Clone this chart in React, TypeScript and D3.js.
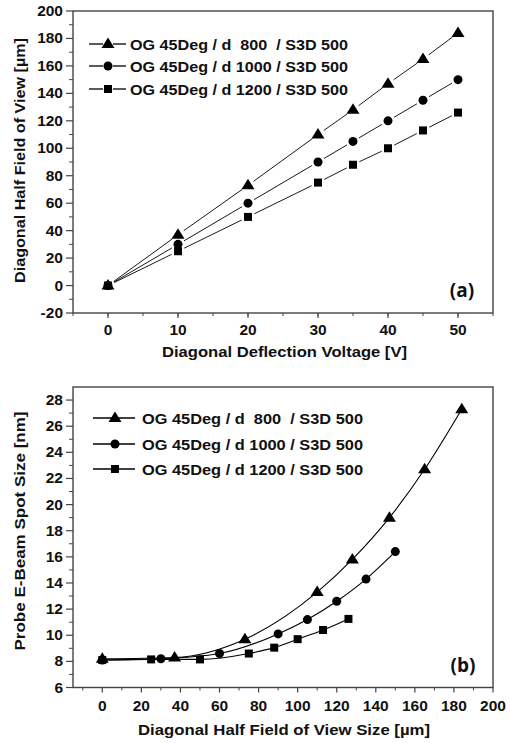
import React from 'react'
import * as d3 from 'd3'

// panel (a): deflection voltage vs half field of view
const voltage = [0, 10, 20, 30, 35, 40, 45, 50]
const fov800 = [0, 37, 73, 110, 128, 147, 165, 184]
const fov1000 = [0, 30, 60, 90, 105, 120, 135, 150]
const fov1200 = [0, 25, 50, 75, 88, 100, 113, 126]

// panel (b): half field of view vs spot size
const spot800 = [8.2, 8.3, 9.7, 13.3, 15.8, 19.0, 22.7, 27.3]
const spot1000 = [8.1, 8.2, 8.6, 10.1, 11.2, 12.6, 14.3, 16.4]
const spot1200 = [8.1, 8.15, 8.15, 8.6, 9.05, 9.7, 10.4, 11.25]

const seriesNames = [
  'OG 45Deg / d  800  / S3D 500',
  'OG 45Deg / d 1000 / S3D 500',
  'OG 45Deg / d 1200 / S3D 500',
]
const markerKinds = ['triangle', 'circle', 'square']

const xTicksA = [0, 10, 20, 30, 40, 50]
const yTicksA = [-20, 0, 20, 40, 60, 80, 100, 120, 140, 160, 180, 200]
const xTicksB = [0, 20, 40, 60, 80, 100, 120, 140, 160, 180, 200]
const yTicksB = [6, 8, 10, 12, 14, 16, 18, 20, 22, 24, 26, 28]

const font = '"Liberation Sans", Arial, sans-serif'
const frame = '#444'

const Marker = ({kind, x, y}) => {
  if (kind === 'triangle')
    return <path d={`M${x},${y - 6.5} L${x + 6.5},${y + 4} L${x - 6.5},${y + 4} Z`} fill="#000" />
  if (kind === 'circle') return <circle cx={x} cy={y} r={4.5} fill="#000" />
  return <rect x={x - 4} y={y - 4} width={8} height={8} fill="#000" />
}

// stretched text, the source figure is a bit wider than the font
const Wide = ({x, y, len, size, anchor = 'middle', transform, children}) => (
  <text
    x={x}
    y={y}
    transform={transform}
    textAnchor={anchor}
    textLength={len}
    lengthAdjust="spacingAndGlyphs"
    fontFamily={font}
    fontWeight="bold"
    fontSize={size}
    fill="#111"
    style={{whiteSpace: 'pre'}}
  >
    {children}
  </text>
)

const Frame = ({x, y, xTicks, yTicks, xMinor, yMinor, xMaj, yMaj, xLabelY}) => {
  const [x0, x1] = x.range()
  const [y0, y1] = y.range()
  return (
    <g fontFamily={font} fontWeight="bold" fill="#111">
      <rect x={x0} y={y1} width={x1 - x0} height={y0 - y1} fill="none" stroke={frame} strokeWidth={1.4} />
      {xMinor.map(t => (
        <line key={'xm' + t} x1={x(t)} x2={x(t)} y1={y0} y2={y0 + 3} stroke={frame} />
      ))}
      {xTicks.map(t => (
        <g key={'x' + t}>
          <line x1={x(t)} x2={x(t)} y1={y0} y2={y0 + xMaj} stroke={frame} strokeWidth={1.2} />
          <text x={x(t)} y={xLabelY} textAnchor="middle" fontSize={15.5}>{t}</text>
        </g>
      ))}
      {yMinor.map(t => (
        <line key={'ym' + t} x1={x0 - 4} x2={x0} y1={y(t)} y2={y(t)} stroke={frame} />
      ))}
      {yTicks.map(t => (
        <g key={'y' + t}>
          <line x1={x0 - yMaj} x2={x0} y1={y(t)} y2={y(t)} stroke={frame} strokeWidth={1.2} />
          <text x={x0 - 10} y={y(t) + 5} textAnchor="end" fontSize={15.5}>{t}</text>
        </g>
      ))}
    </g>
  )
}

// straight segments that stop short of each marker
const gappedSegments = (pts, gap) => {
  const out = []
  for (let i = 0; i < pts.length - 1; i++) {
    const [ax, ay] = pts[i]
    const [bx, by] = pts[i + 1]
    const len = Math.hypot(bx - ax, by - ay)
    if (len <= gap * 2) continue
    const ux = (bx - ax) / len
    const uy = (by - ay) / len
    out.push([ax + ux * gap, ay + uy * gap, bx - ux * gap, by - uy * gap])
  }
  return out
}

const Legend = ({rows, lineX, markX, textX, textLen, gapped}) => (
  <g>
    {seriesNames.map((name, i) => (
      <g key={name}>
        {gapped ? (
          <>
            <line x1={lineX[0]} x2={markX - 5} y1={rows[i]} y2={rows[i]} stroke="#000" strokeWidth={1.3} />
            <line x1={markX + 5} x2={lineX[1]} y1={rows[i]} y2={rows[i]} stroke="#000" strokeWidth={1.3} />
          </>
        ) : (
          <line x1={lineX[0]} x2={lineX[1]} y1={rows[i]} y2={rows[i]} stroke="#000" strokeWidth={1.3} />
        )}
        <Marker kind={markerKinds[i]} x={markX} y={rows[i]} />
        <Wide x={textX} y={rows[i] + 5.5} len={textLen} size={15} anchor="start">{name}</Wide>
      </g>
    ))}
  </g>
)

const App = () => {
  const xA = d3.scaleLinear([-5, 55], [73, 493])
  const yA = d3.scaleLinear([-20, 200], [313, 11])
  const xB = d3.scaleLinear([-15, 200], [73, 493])
  const yB = d3.scaleLinear([6, 29], [687.5, 387])

  const fovSeries = [fov800, fov1000, fov1200]
  const spotSeries = [spot800, spot1000, spot1200]

  const curve = d3
    .line()
    .x(d => xB(d[0]))
    .y(d => yB(d[1]))
    .curve(d3.curveMonotoneX)

  return (
    <svg width={510} height={743} style={{position: 'absolute', left: 0, top: 0, background: '#fff'}}>
      {/* panel (a) */}
      <Frame
        x={xA}
        y={yA}
        xTicks={xTicksA}
        yTicks={yTicksA}
        xMinor={d3.range(-5, 56, 5)}
        yMinor={d3.range(-10, 200, 20)}
        xMaj={5}
        yMaj={7}
        xLabelY={335}
      />
      {fovSeries.map((s, k) => {
        const pts = voltage.map((v, i) => [xA(v), yA(s[i])])
        return (
          <g key={'a' + k}>
            {gappedSegments(pts, 7).map((sg, j) => (
              <line key={j} x1={sg[0]} y1={sg[1]} x2={sg[2]} y2={sg[3]} stroke="#000" strokeWidth={0.9} />
            ))}
          </g>
        )
      })}
      {[2, 1, 0].map(k =>
        voltage.map((v, i) => (
          <Marker key={`am${k}-${i}`} kind={markerKinds[k]} x={xA(v)} y={yA(fovSeries[k][i])} />
        ))
      )}
      <Legend rows={[44, 66, 89]} lineX={[89, 126]} markX={108} textX={130} textLen={218} gapped={true} />
      <text x={462} y={297} textAnchor="middle" fontFamily='"Open Sans", sans-serif' fontWeight="bold" fontSize={19} fill="#111">(a)</text>
      <Wide x={284.5} y={357} len={245} size={14.5}>Diagonal Deflection Voltage [V]</Wide>
      <Wide x={0} y={0} len={245} size={14} transform="translate(25,160.5) rotate(-90)">
        Diagonal Half Field of View [µm]
      </Wide>

      {/* panel (b) */}
      <Frame
        x={xB}
        y={yB}
        xTicks={xTicksB}
        yTicks={yTicksB}
        xMinor={d3.range(-10, 200, 20)}
        yMinor={d3.range(7, 29, 2)}
        xMaj={5}
        yMaj={7}
        xLabelY={711}
      />
      {spotSeries.map((s, k) => (
        <path
          key={'b' + k}
          d={curve(fovSeries[k].map((f, i) => [f, s[i]]))}
          fill="none"
          stroke="#000"
          strokeWidth={1.1}
        />
      ))}
      {[2, 1, 0].map(k =>
        fovSeries[k].map((f, i) => (
          <Marker key={`bm${k}-${i}`} kind={markerKinds[k]} x={xB(f)} y={yB(spotSeries[k][i])} />
        ))
      )}
      <Legend rows={[418, 444, 469]} lineX={[93, 135]} markX={115} textX={142} textLen={221} gapped={false} />
      <text x={463} y={672} textAnchor="middle" fontFamily='"Open Sans", sans-serif' fontWeight="bold" fontSize={19} fill="#111">(b)</text>
      <Wide x={284} y={735} len={292} size={14.5}>Diagonal Half Field of View Size [µm]</Wide>
      <Wide x={0} y={0} len={239} size={14} transform="translate(25,531) rotate(-90)">
        Probe E-Beam Spot Size [nm]
      </Wide>
    </svg>
  )
}

export default App
